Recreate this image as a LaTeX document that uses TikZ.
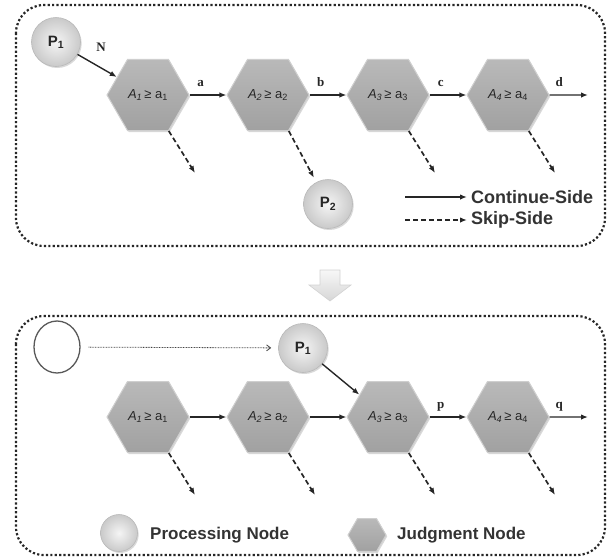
\documentclass[tikz,border=0pt]{standalone}
\usepackage{fontspec}
\setmainfont{Liberation Sans}
\newfontfamily\serifb{Liberation Serif}
\usetikzlibrary{shapes.geometric,arrows.meta,shadows,calc}

\begin{document}
\begin{tikzpicture}[x=1pt,y=-1pt,
  frame/.style={draw=black!85, line width=2.2pt, dash pattern=on 2.2pt off 2.2pt, rounded corners=28pt},
  hexnode/.style={regular polygon, regular polygon sides=6, minimum size=82pt, inner sep=0pt,
     top color=gray!55, bottom color=gray!74, draw=gray!38, line width=1pt,
     drop shadow={shadow xshift=1.2pt, shadow yshift=-1.5pt, opacity=0.3},
     font=\fontsize{13}{13}\selectfont, text=black!85},
  proc/.style={circle, minimum size=49pt, inner sep=0pt, inner color=gray!8, outer color=gray!42,
     draw=gray!55, line width=0.6pt,
     drop shadow={shadow xshift=1.2pt, shadow yshift=-1.5pt, opacity=0.3},
     font=\fontsize{15}{15}\selectfont\bfseries, text=black!85},
  cont/.style={-{Latex[length=7pt,width=5.5pt]}, line width=1.4pt, draw=black!85},
  skip/.style={cont, dash pattern=on 5pt off 3pt, line width=1.7pt},
  dotarrow/.style={-{Straight Barb[length=4pt,width=6pt]}, line width=0.8pt, draw=black!75,
     dash pattern=on 0.8pt off 0.8pt},
  lbl/.style={font=\serifb\bfseries\fontsize{13}{13}\selectfont, text=black!85, anchor=base, yshift=9pt, pos=0.3},
  legtxt/.style={font=\bfseries\fontsize{18}{18}\selectfont, anchor=west, text=black!80, inner sep=2pt},
  legtxtb/.style={font=\bfseries\fontsize{17}{17}\selectfont, anchor=west, text=black!80, inner sep=0pt},
]
\useasboundingbox (0,0) rectangle (607,558);

% ---------- top panel ----------
\draw[frame] (16,5) rectangle (605,246);

\node[proc] (P1) at (56,42) {P\textsubscript{1}};
\node[hexnode] (A1) at (148,95) {\textit{A\textsubscript{1}}\,≥ a\textsubscript{1}};
\node[hexnode] (A2) at (268,95) {\textit{A\textsubscript{2}}\,≥ a\textsubscript{2}};
\node[hexnode] (A3) at (388,95) {\textit{A\textsubscript{3}}\,≥ a\textsubscript{3}};
\node[hexnode] (A4) at (508,95) {\textit{A\textsubscript{4}}\,≥ a\textsubscript{4}};
\node[proc] (P2) at (328,204) {P\textsubscript{2}};

\coordinate (dend) at (588,95);
\coordinate (s1) at (195,173);
\coordinate (s3) at (435,173);
\coordinate (s4) at (555,173);

\draw[cont] (P1) -- (A1.150);
\node[font=\serifb\bfseries\fontsize{13}{13}\selectfont, text=black!85] (N) at (101,47) {N};
\draw[cont] (A1.east) -- node[lbl] (la) {a} (A2.west);
\draw[cont] (A2.east) -- node[lbl] (lb) {b} (A3.west);
\draw[cont] (A3.east) -- node[lbl] (lc) {c} (A4.west);
\draw[cont] (A4.east) -- node[lbl, pos=0.25] (ld) {d} (dend);

\draw[skip] (A1.-60) -- (s1);
\draw[skip, shorten >=5pt] (A2.-60) -- (P2);
\draw[skip] (A3.-60) -- (s3);
\draw[skip] (A4.-60) -- (s4);

% legend top
\coordinate (lc1) at (405,197);
\coordinate (lc2) at (405,220);
\node[legtxt] (CS) at (469,197) {Continue-Side};
\node[legtxt] (SS) at (469,220) {Skip-Side};
\draw[cont, shorten >=2pt] (lc1) -- (CS.west);
\draw[skip, shorten >=2pt] (lc2) -- (SS.west);

% ---------- down arrow ----------
\path[top color=gray!6, bottom color=gray!32, draw=gray!35, line width=0.6pt]
  (320,270) -- (340,270) -- (340,285) -- (351,285) -- (330,301) -- (309,285) -- (320,285) -- cycle;

% ---------- bottom panel ----------
\draw[frame] (16,316) rectangle (605,555);

\node[ellipse, draw=black!65, line width=1.3pt, minimum width=46pt, minimum height=52pt, inner sep=0pt] (E) at (57,347) {};
\node[proc] (Q1) at (303,348) {P\textsubscript{1}};
\draw[dotarrow, shorten <=8pt, shorten >=7pt] (E) -- (Q1);

\node[hexnode] (B1) at (148,417) {\textit{A\textsubscript{1}}\,≥ a\textsubscript{1}};
\node[hexnode] (B2) at (268,417) {\textit{A\textsubscript{2}}\,≥ a\textsubscript{2}};
\node[hexnode] (B3) at (388,417) {\textit{A\textsubscript{3}}\,≥ a\textsubscript{3}};
\node[hexnode] (B4) at (508,417) {\textit{A\textsubscript{4}}\,≥ a\textsubscript{4}};

\coordinate (qend) at (588,417);
\coordinate (t1) at (195,495);
\coordinate (t2) at (315,495);
\coordinate (t3) at (435,495);
\coordinate (t4) at (555,495);

\draw[cont] (Q1) -- (B3.142);
\draw[cont] (B1.east) -- (B2.west);
\draw[cont] (B2.east) -- (B3.west);
\draw[cont] (B3.east) -- node[lbl] (lp) {p} (B4.west);
\draw[cont] (B4.east) -- node[lbl, pos=0.25] (lq) {q} (qend);

\draw[skip] (B1.-60) -- (t1);
\draw[skip] (B2.-60) -- (t2);
\draw[skip] (B3.-60) -- (t3);
\draw[skip] (B4.-60) -- (t4);

% legend bottom
\node[proc, minimum size=37pt] (LP) at (119,533) {};
\node[legtxtb] (LPT) at (150,535) {Processing Node};
\node[hexnode, minimum size=38pt] (LJ) at (367,535) {};
\node[legtxtb] (LJT) at (397,535) {Judgment Node};
\end{tikzpicture}
\end{document}
